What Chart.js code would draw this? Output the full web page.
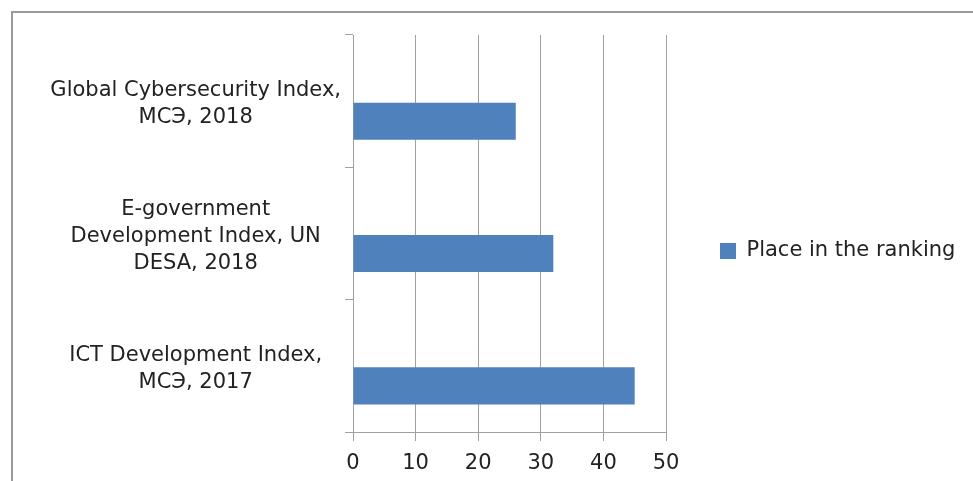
<!DOCTYPE html>
<html>
<head>
<meta charset="utf-8">
<script src="https://cdn.jsdelivr.net/npm/chart.js@4/dist/chart.umd.min.js"></script>
<style>
  html, body { margin: 0; padding: 0; background: #fff; }
  #wrap { width: 973px; height: 481px; position: relative; }
</style>
</head>
<body>
<div id="wrap"><canvas id="grafico"></canvas></div>
<script>
// DADOS
var categorias = [
    ['Global Cybersecurity Index,', 'МСЭ, 2018'],
    ['E-government', 'Development Index, UN', 'DESA, 2018'],
    ['ICT Development Index,', 'МСЭ, 2017']
];
var lugarNoRanking = [26, 32, 45];
var ticksX = [0, 10, 20, 30, 40, 50];

var corBarra = '#4f81bd';
var corGrade = '#a0a0a0';
var fonte = '"DejaVu Sans", sans-serif';

// moldura cinza no canto superior esquerdo
var moldura = {
    id: 'moldura',
    beforeDraw: function(chart) {
        var ctx = chart.ctx;
        ctx.save();
        ctx.strokeStyle = '#9a9a9a';
        ctx.lineWidth = 2;
        ctx.strokeRect(12, 12, 1200, 1200);
        ctx.restore();
    }
};

// empurra a legenda para a posição do original (e alarga a área de recorte)
var ajusteLegenda = {
    id: 'ajusteLegenda',
    afterLayout: function(chart) {
        var lg = chart.legend;
        var dx = 44, dy = -7;
        lg.left += dx;
        lg.right = chart.width;
        lg.width = lg.right - lg.left;
        lg.top += dy; lg.bottom += dy;
    }
};

var ctx = document.getElementById('grafico').getContext('2d');

var grafico = new Chart(ctx, {
    type: 'bar',
    data: {
        labels: categorias,
        datasets: [{
            label: '',
            data: categorias.map(function() { return null; }),
            backgroundColor: 'rgba(0,0,0,0)'
        }, {
            label: 'Place in the ranking',
            data: lugarNoRanking,
            backgroundColor: corBarra,
            borderWidth: 0
        }]
    },
    options: {
        indexAxis: 'y',
        responsive: true,
        maintainAspectRatio: false,
        animation: false,
        events: [],
        categoryPercentage: 0.606,
        barPercentage: 0.925,
        layout: {
            padding: { top: 35, left: 0, right: 85, bottom: 0 }
        },
        scales: {
            x: {
                min: 0,
                max: 50,
                afterBuildTicks: function(scale) {
                    scale.ticks = ticksX.map(function(v) { return { value: v }; });
                },
                afterFit: function(scale) { scale.height = 49; },
                grid: {
                    color: corGrade,
                    lineWidth: 1,
                    tickLength: 9
                },
                border: { display: true, color: corGrade, width: 1 },
                ticks: {
                    color: '#222',
                    padding: 10,
                    font: { family: fonte, size: 21 }
                }
            },
            y: {
                afterFit: function(scale) { scale.width = 353; },
                grid: {
                    offset: true,
                    drawOnChartArea: false,
                    drawTicks: true,
                    tickLength: 8,
                    color: corGrade
                },
                border: { display: true, color: corGrade, width: 1 },
                ticks: {
                    crossAlign: 'center',
                    padding: 4,
                    labelOffset: 3,
                    color: '#222',
                    font: { family: fonte, size: 21, lineHeight: 1.3 }
                }
            }
        },
        plugins: {
            legend: {
                position: 'right',
                align: 'center',
                labels: {
                    boxWidth: 16,
                    boxHeight: 16,
                    color: '#222',
                    font: { family: fonte, size: 21 },
                    filter: function(item) { return item.text !== ''; }
                }
            },
            tooltip: { enabled: false }
        }
    },
    plugins: [moldura, ajusteLegenda]
});
</script>
</body>
</html>
